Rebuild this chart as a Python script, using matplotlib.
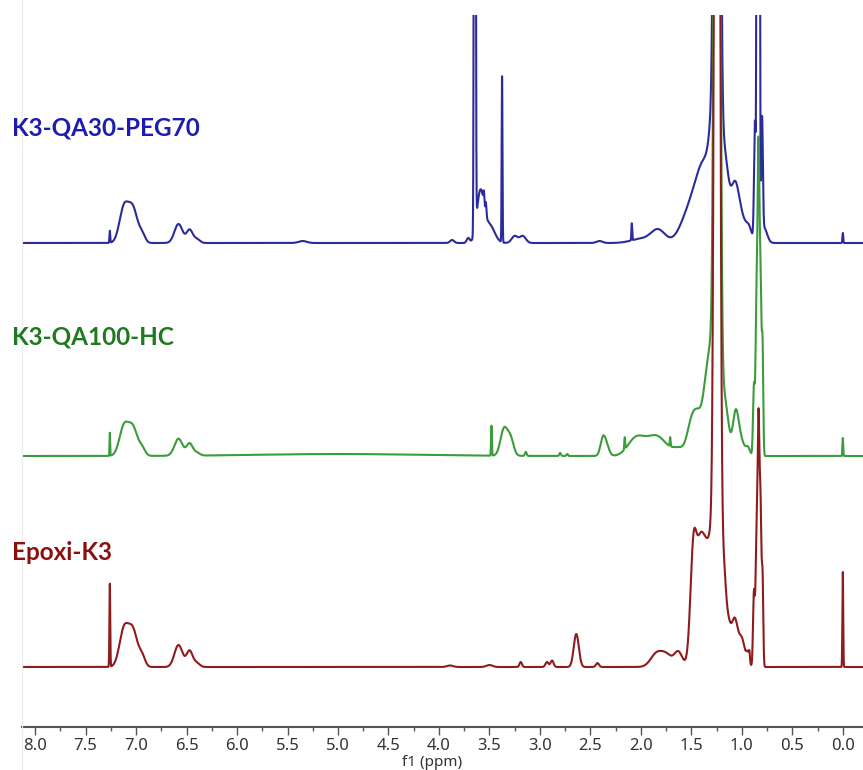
import numpy as np
import matplotlib
matplotlib.use("Agg")
import matplotlib.pyplot as plt
from matplotlib.lines import Line2D
from matplotlib.ticker import MultipleLocator

# --- Peak lists (ppm, height, gaussian sigma in ppm) for each 1H spectrum ---
# K3-QA30-PEG70
peg_ppm = [7.26, 7.12, 7.03, 6.94, 6.58, 6.47, 6.40, 5.35, 3.87, 3.71, 3.645, 3.59, 3.555,
           3.535, 3.50, 3.375, 3.25, 3.17, 2.41, 2.09, 2.00, 1.83, 1.55, 1.37, 1.25, 1.245,
           1.16, 1.07, 1.00, 0.93, 0.87, 0.845, 0.83, 0.80, 0.78, 0.0]
peg_height = [12, 35, 33, 8, 19, 13, 4, 2, 3, 5, 2000, 50, 12,
              12, 18, 166, 7, 7, 2, 17, 4, 13, 18, 80, 150, 2000,
              55, 55, 20, 14, 120, 2000, 1500, 115, 15, 10]
peg_width = [0.004, 0.045, 0.045, 0.03, 0.04, 0.03, 0.03, 0.04, 0.02, 0.015, 0.006, 0.035, 0.005,
             0.005, 0.05, 0.004, 0.03, 0.03, 0.03, 0.004, 0.1, 0.07, 0.08, 0.1, 0.045, 0.02,
             0.035, 0.04, 0.04, 0.03, 0.009, 0.006, 0.006, 0.008, 0.03, 0.004]

# K3-QA100-HC
hc_ppm = [7.26, 7.12, 7.03, 6.94, 6.58, 6.47, 6.40, 5.0, 3.48, 3.355, 3.29, 3.14, 2.80, 2.73,
          2.375, 2.335, 2.16, 2.05, 1.85, 1.71, 1.62, 1.51, 1.44, 1.34, 1.25, 1.245, 1.155,
          1.06, 1.00, 0.94, 0.88, 0.855, 0.835, 0.815, 0.795, 0.0]
hc_height = [23, 29, 27, 7, 17, 12, 3, 2, 30, 27, 16, 4, 3, 2,
             18, 8, 12, 17, 20, 9, 7, 20, 40, 70, 150, 2000, 35,
             45, 12, 8, 70, 150, 292, 175, 105, 18]
hc_width = [0.003, 0.045, 0.045, 0.03, 0.04, 0.03, 0.03, 0.8, 0.004, 0.035, 0.03, 0.008, 0.008, 0.008,
            0.025, 0.025, 0.004, 0.08, 0.1, 0.004, 0.06, 0.04, 0.05, 0.04, 0.045, 0.02, 0.03,
            0.03, 0.03, 0.02, 0.009, 0.009, 0.009, 0.009, 0.007, 0.004]

# Epoxi-K3
ep_ppm = [7.26, 7.12, 7.03, 6.94, 6.58, 6.47, 6.40, 3.89, 3.50, 3.19, 2.93, 2.88, 2.64, 2.43,
          1.84, 1.74, 1.63, 1.48, 1.42, 1.37, 1.25, 1.245, 1.18, 1.14, 1.07, 1.00, 0.94, 0.925,
          0.88, 0.855, 0.835, 0.815, 0.795, 0.0]
ep_height = [83, 37, 35, 10, 22, 16, 4, 1.5, 2, 5, 5, 6.5, 33, 4,
             14, 10, 15, 100, 30, 120, 150, 2000, 45, 40, 45, 27, 12, 8,
             75, 125, 235, 155, 85, 95]
ep_width = [0.004, 0.045, 0.045, 0.03, 0.04, 0.03, 0.03, 0.03, 0.03, 0.012, 0.015, 0.015, 0.025, 0.015,
            0.06, 0.05, 0.04, 0.03, 0.03, 0.065, 0.045, 0.02, 0.02, 0.03, 0.03, 0.03, 0.015, 0.005,
            0.009, 0.009, 0.009, 0.009, 0.007, 0.004]

labels = ["K3-QA30-PEG70", "K3-QA100-HC", "Epoxi-K3"]
offsets = [484, 271, 60]
line_colors = ["#2b2b9c", "#3a9c3a", "#8e1c1c"]
text_colors = ["#1c1cb0", "#1f7a1f", "#8b1111"]
label_y = [128, 337, 552]  # pixel rows of the sample names


def spectrum(ppm, centers, heights, widths):
    y = np.zeros_like(ppm)
    for c, h, s in zip(centers, heights, widths):
        y += h * np.exp(-0.5 * ((ppm - c) / s) ** 2)
    return y


ppm = np.linspace(8.3, -0.3, 30000)
peak_sets = [(peg_ppm, peg_height, peg_width),
             (hc_ppm, hc_height, hc_width),
             (ep_ppm, ep_height, ep_width)]

W, H = 863, 770
fig = plt.figure(figsize=(W / 100, H / 100), dpi=100)
ax = fig.add_axes([22 / W, 1 - 727 / H, 1 - 22 / W, (727 - 15) / H])

# faint frame edge on the left
fig.add_artist(Line2D([22 / W, 22 / W], [0, 1], color="#ececec", lw=0.8))

# blue first, red last (red sits on top)
for (c, h, w), off, col in zip(peak_sets, offsets, line_colors):
    ax.plot(ppm, spectrum(ppm, c, h, w) + off, color=col, lw=1.5)

ax.set_xlim(8.13, -0.2)
ax.set_ylim(0, 712)
for s in ["top", "left", "right"]:
    ax.spines[s].set_visible(False)
ax.spines["bottom"].set_color("#555555")
ax.spines["bottom"].set_linewidth(1.5)
ax.set_yticks([])
ax.xaxis.set_minor_locator(MultipleLocator(0.25))
ax.tick_params(axis="x", which="major", direction="out", length=6, width=1, color="#555555",
               labelsize=12, labelcolor="#333333", pad=2)
ax.tick_params(axis="x", which="minor", direction="out", length=3, width=1, color="#555555")
ticks = np.arange(0, 8.01, 0.5)
ax.set_xticks(ticks)
ax.set_xticklabels([f"{v:.1f}" for v in ticks], family="Noto Sans")
fig.text(432 / W, 1 - 762 / H, "f1 (ppm)", family="Noto Sans", fontsize=11, color="#333333",
         ha="center", va="center")

for lab, yy, col in zip(labels, label_y, text_colors):
    fig.text(12 / W, 1 - yy / H, lab, color=col, fontsize=17.5, fontweight="bold",
             family="Lato", va="center", ha="left")

fig.savefig("out.png", dpi=100, facecolor="white")
